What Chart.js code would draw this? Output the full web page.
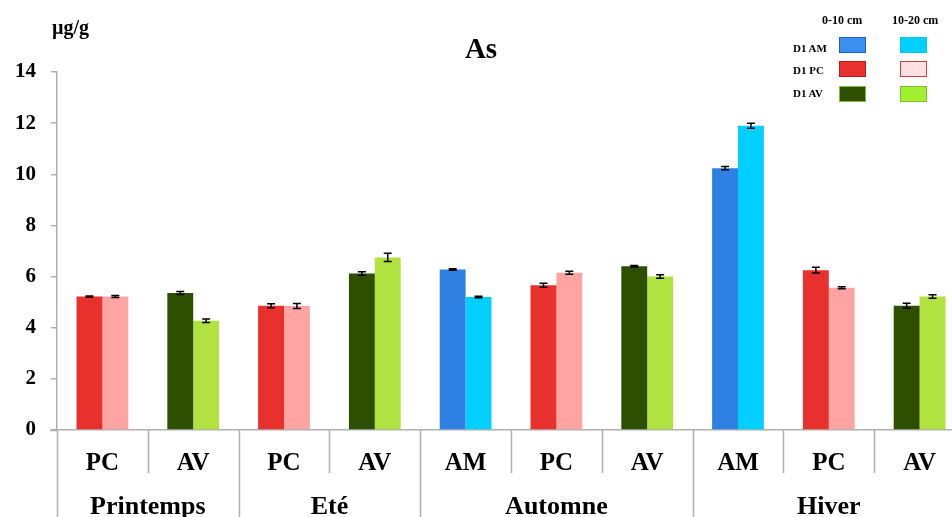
<!DOCTYPE html>
<html>
<head>
<meta charset="utf-8">
<script src="https://cdn.jsdelivr.net/npm/chart.js@4.4.0/dist/chart.umd.min.js"></script>
<style>
  html, body { margin: 0; padding: 0; background: #fff; overflow: hidden; width: 952px; height: 517px; }
  #wrap { position: relative; width: 968px; height: 517px; }
  .lg { position: absolute; font-family: "Liberation Serif", serif; font-weight: bold; color: #000; white-space: nowrap; }
  .hd { font-size: 12px; top: 13px; }
  .rw { font-size: 11px; left: 793px; }
  .box { position: absolute; width: 27px; height: 16px; box-sizing: border-box; border: 1.5px solid; }
</style>
</head>
<body>
<div id="wrap">
  <canvas id="chart" width="968" height="517"></canvas>
  <div class="lg hd" style="left:822px">0-10 cm</div>
  <div class="lg hd" style="left:892px">10-20 cm</div>
  <div class="lg rw" style="top:42px">D1 AM</div>
  <div class="lg rw" style="top:64px">D1 PC</div>
  <div class="lg rw" style="top:87px">D1 AV</div>
  <div class="box" style="left:839px;top:37px;background:#3a8ff0;border-color:#1f5fb8"></div>
  <div class="box" style="left:900px;top:37px;background:#00cfff;border-color:#00c8f5"></div>
  <div class="box" style="left:839px;top:61px;background:#e8302e;border-color:#c01818"></div>
  <div class="box" style="left:900px;top:61px;background:#fde0e0;border-color:#d04040"></div>
  <div class="box" style="left:839px;top:86px;background:#2f4f00;border-color:#8ab840"></div>
  <div class="box" style="left:900px;top:86px;background:#a0f030;border-color:#80c030"></div>
</div>
<script>
// seasons and how many sites each one has
const seasons = ['Printemps', 'Eté', 'Automne', 'Hiver'];
const seasonSizes = [2, 2, 3, 3];
const sites = ['PC', 'AV', 'PC', 'AV', 'AM', 'PC', 'AV', 'AM', 'PC', 'AV'];

// As (µg/g), 0-10 cm and 10-20 cm
const surface = [5.22, 5.36, 4.86, 6.12, 6.28, 5.66, 6.40, 10.24, 6.25, 4.86];
const deep = [5.22, 4.27, 4.85, 6.75, 5.20, 6.15, 6.00, 11.90, 5.56, 5.22];
const surfaceErr = [0.02, 0.06, 0.08, 0.07, 0.03, 0.08, 0.03, 0.06, 0.11, 0.1];
const deepErr = [0.04, 0.07, 0.1, 0.16, 0.03, 0.06, 0.07, 0.1, 0.04, 0.07];

const colSurface = { AM: '#2e80e2', PC: '#e8312d', AV: '#2f4f00' };
const colDeep = { AM: '#00cfff', PC: '#ffa3a3', AV: '#b0e240' };

const serif = '"Liberation Serif", "Times New Roman", serif';

const extras = {
  id: 'extras',
  afterDatasetsDraw(chart) {
    const ctx = chart.ctx;
    const x = chart.scales.x, y = chart.scales.y;
    const area = chart.chartArea;
    ctx.save();

    // error bars
    ctx.strokeStyle = '#000';
    ctx.lineWidth = 1.5;
    [surfaceErr, deepErr].forEach((errs, di) => {
      const vals = chart.data.datasets[di].data;
      chart.getDatasetMeta(di).data.forEach((bar, i) => {
        const top = y.getPixelForValue(vals[i] + errs[i]);
        const bot = y.getPixelForValue(vals[i] - errs[i]);
        ctx.beginPath();
        ctx.moveTo(bar.x, top); ctx.lineTo(bar.x, bot);
        ctx.moveTo(bar.x - 4, top); ctx.lineTo(bar.x + 4, top);
        ctx.moveTo(bar.x - 4, bot); ctx.lineTo(bar.x + 4, bot);
        ctx.stroke();
      });
    });

    // dividers under the axis
    const step = (area.right - area.left) / sites.length;
    const bounds = [0];
    seasonSizes.forEach(n => bounds.push(bounds[bounds.length - 1] + n));
    ctx.strokeStyle = '#b0b0b0';
    ctx.lineWidth = 1.5;
    for (let i = 0; i <= sites.length; i++) {
      const px = Math.round(area.left + i * step) + 0.5;
      ctx.beginPath();
      ctx.moveTo(px, area.bottom);
      ctx.lineTo(px, bounds.includes(i) ? 517 : 473);
      ctx.stroke();
    }
    // small stub of the x axis left of the y axis
    ctx.beginPath();
    ctx.moveTo(area.left - 7, Math.round(area.bottom) + 0.5);
    ctx.lineTo(area.left, Math.round(area.bottom) + 0.5);
    ctx.stroke();

    // season labels
    ctx.fillStyle = '#000';
    ctx.font = 'bold 26px ' + serif;
    ctx.textAlign = 'center';
    ctx.textBaseline = 'alphabetic';
    seasons.forEach((s, k) => {
      const cx = area.left + (bounds[k] + bounds[k + 1]) / 2 * step;
      ctx.fillText(s, cx, 514);
    });

    // title and unit
    ctx.font = 'bold 29px ' + serif;
    ctx.fillText('As', 481, 58);
    ctx.font = 'bold 20px ' + serif;
    ctx.textAlign = 'left';
    ctx.fillText('µg/g', 52, 34);
    ctx.restore();
  }
};

new Chart(document.getElementById('chart'), {
  type: 'bar',
  data: {
    labels: sites,
    datasets: [
      {
        label: '0-10 cm',
        data: surface,
        backgroundColor: sites.map(s => colSurface[s]),
        borderWidth: 0
      },
      {
        label: '10-20 cm',
        data: deep,
        backgroundColor: sites.map(s => colDeep[s]),
        borderWidth: 0
      }
    ]
  },
  options: {
    responsive: false,
    animation: false,
    layout: { padding: { top: 72, right: 3, left: 0, bottom: 0 } },
    datasets: { bar: { categoryPercentage: 0.57, barPercentage: 1.0 } },
    plugins: {
      legend: { display: false },
      tooltip: { enabled: false },
      title: { display: false }
    },
    scales: {
      x: {
        afterFit: (scale) => { scale.height = 87; },
        grid: { display: false },
        border: { display: true, color: '#b0b0b0', width: 1.5 },
        ticks: {
          color: '#000',
          padding: 11,
          maxRotation: 0,
          font: { family: serif, weight: 'bold', size: 25 }
        }
      },
      y: {
        min: 0,
        max: 14,
        afterFit: (scale) => { scale.width = 57; },
        grid: { drawOnChartArea: false, drawTicks: true, tickLength: 6, color: '#b0b0b0', lineWidth: 1.5 },
        border: { display: true, color: '#b0b0b0', width: 1.5 },
        ticks: {
          stepSize: 2,
          color: '#000',
          padding: 15,
          font: { family: serif, weight: 'bold', size: 21 }
        }
      }
    }
  },
  plugins: [extras]
});
</script>
</body>
</html>
